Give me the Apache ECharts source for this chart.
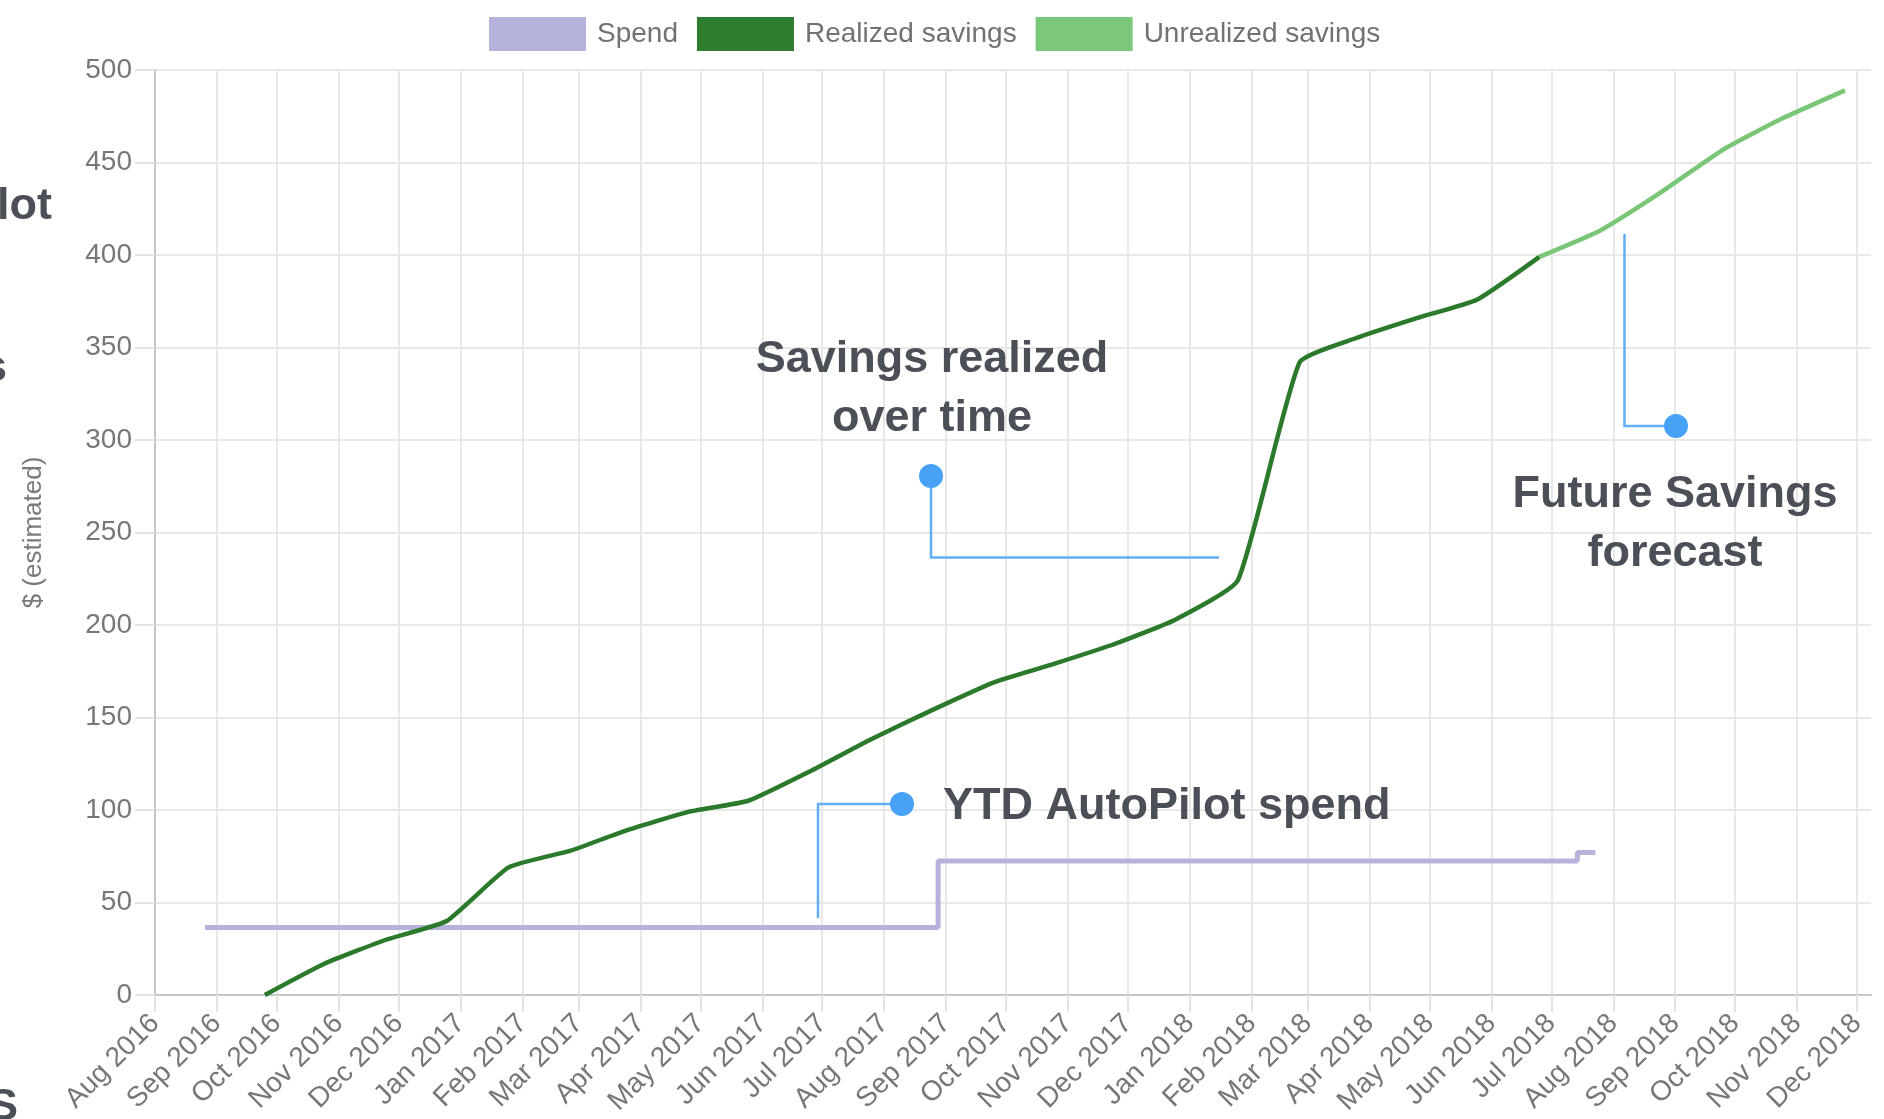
<!DOCTYPE html>
<html>
<head>
<meta charset="utf-8">
<title>AutoPilot savings</title>
<script src="https://cdn.jsdelivr.net/npm/echarts@6/dist/echarts.min.js"></script>
<style>
  html, body { margin: 0; padding: 0; background: #fff; }
  #chart { width: 1884px; height: 1119px; }
</style>
</head>
<body>
<div id="chart"></div>
<script>
// realized savings, one reading per month
const realizedDates = ['2016-09-25', '2016-10-25', '2016-11-25', '2016-12-25', '2017-01-25', '2017-02-25',
  '2017-03-25', '2017-04-25', '2017-05-25', '2017-06-25', '2017-07-25', '2017-08-25', '2017-09-25',
  '2017-10-25', '2017-11-25', '2017-12-25', '2018-01-25', '2018-02-25', '2018-03-25', '2018-04-25',
  '2018-05-25', '2018-06-25']
const realizedValues = [0, 17, 30, 40, 69, 78, 89, 99, 105, 121, 138, 154, 169,
  179, 190, 203, 224, 342, 355, 366, 376, 399]

// forecast (unrealized) savings
const unrealizedDates = ['2018-06-25', '2018-07-25', '2018-08-25', '2018-09-25', '2018-10-25', '2018-11-25']
const unrealizedValues = [399, 413, 434, 457, 474, 489]

// YTD spend, stepped
const spendDates = ['2016-08-26', '2017-08-28', '2018-07-14', '2018-07-23']
const spendValues = [36.5, 72.5, 77, 77]

const monthNames = ['Jan', 'Feb', 'Mar', 'Apr', 'May', 'Jun', 'Jul', 'Aug', 'Sep', 'Oct', 'Nov', 'Dec']
const yTicks = { min: 0, max: 500, interval: 50 }

const font = 'Liberation Sans'
const calloutBlue = '#63aff5'
const dotBlue = '#47a2f6'
const noteColor = '#4b4f58'

function pairs(dates, values) {
  return dates.map((d, i) => [d, values[i]])
}

function callout(points, dot) {
  return [
    { type: 'polyline', shape: { points }, style: { stroke: calloutBlue, lineWidth: 2.5, fill: null }, z: 10 },
    { type: 'circle', shape: { cx: dot[0], cy: dot[1], r: 12 }, style: { fill: dotBlue }, z: 11 }
  ]
}

function note(text, x, y, align) {
  return {
    type: 'text', x, y, z: 12,
    style: {
      text, fill: noteColor, font: 'bold 45px "Liberation Sans"',
      textAlign: align, textVerticalAlign: 'middle', lineHeight: 59
    }
  }
}

function edgeText(text, x, y) {
  return {
    type: 'text', x, y,
    style: { text, fill: noteColor, font: 'bold 45px "Liberation Sans"', textAlign: 'left', textVerticalAlign: 'middle' }
  }
}

const chart = echarts.init(document.getElementById('chart'))

chart.setOption({
  backgroundColor: '#fff',
  animation: false,
  legend: {
    left: 489,
    top: 17,
    padding: 0,
    icon: 'rect',
    itemWidth: 97,
    itemHeight: 34,
    itemGap: 19,
    textStyle: { fontFamily: font, fontSize: 28, color: '#727272', padding: [0, 0, 0, 6] },
    data: ['Spend', 'Realized savings', 'Unrealized savings']
  },
  grid: {
    left: 155,
    right: 13,
    top: 70,
    bottom: 124
  },
  xAxis: {
    type: 'time',
    min: '2016-08-01',
    max: '2018-12-08',
    splitNumber: 28,
    axisLine: { show: true, lineStyle: { color: '#c6c6c6', width: 2 } },
    axisTick: { show: true, length: 17, lineStyle: { color: '#e3e3e3', width: 2 } },
    splitLine: { show: true, showMaxLine: false, lineStyle: { color: '#e8e8e8', width: 2 } },
    axisLabel: {
      rotate: 45,
      margin: 24,
      fontFamily: font,
      fontSize: 28,
      color: '#777',
      showMaxLabel: false,
      hideOverlap: false,
      formatter: function (value) {
        const d = new Date(value)
        if (d.getDate() !== 1) return ''
        return monthNames[d.getMonth()] + ' ' + d.getFullYear()
      }
    }
  },
  yAxis: {
    type: 'value',
    min: yTicks.min,
    max: yTicks.max,
    interval: yTicks.interval,
    name: '$ (estimated)',
    nameLocation: 'middle',
    nameRotate: 90,
    nameGap: 108,
    nameTextStyle: { fontFamily: font, fontSize: 26, color: '#7a7a7a' },
    axisLine: { show: true, lineStyle: { color: '#c6c6c6', width: 2 } },
    axisTick: { show: true, length: 20, lineStyle: { color: '#e3e3e3', width: 2 } },
    splitLine: { lineStyle: { color: '#e8e8e8', width: 2 } },
    axisLabel: { margin: 23, fontFamily: font, fontSize: 28, color: '#777' }
  },
  series: [
    {
      name: 'Spend',
      type: 'line',
      step: 'end',
      showSymbol: false,
      color: '#b5b3db',
      lineStyle: { width: 5, color: '#b5b3db' },
      data: pairs(spendDates, spendValues)
    },
    {
      name: 'Realized savings',
      type: 'line',
      smooth: 0.15,
      showSymbol: false,
      color: '#2f7d2f',
      lineStyle: { width: 4.5, color: '#2b7a2b' },
      data: pairs(realizedDates, realizedValues)
    },
    {
      name: 'Unrealized savings',
      type: 'line',
      smooth: 0.15,
      showSymbol: false,
      color: '#7cc87a',
      lineStyle: { width: 4.5, color: '#78c676' },
      data: pairs(unrealizedDates, unrealizedValues)
    }
  ],
  graphic: [
    note('Savings realized\nover time', 932, 389, 'center'),
    ...callout([[931, 476], [931, 557.5], [1219, 557.5]], [931, 476]),
    note('YTD AutoPilot spend', 943, 807, 'left'),
    ...callout([[902, 804], [818, 804], [818, 918]], [902, 804]),
    note('Future Savings\nforecast', 1675, 524, 'center'),
    ...callout([[1676, 426], [1624.5, 426], [1624.5, 234]], [1676, 426]),
    // cut-off words from the page around the chart
    edgeText('lot', -3, 207),
    edgeText('s', -18, 369),
    edgeText('S', -12, 1108)
  ]
})
</script>
</body>
</html>
